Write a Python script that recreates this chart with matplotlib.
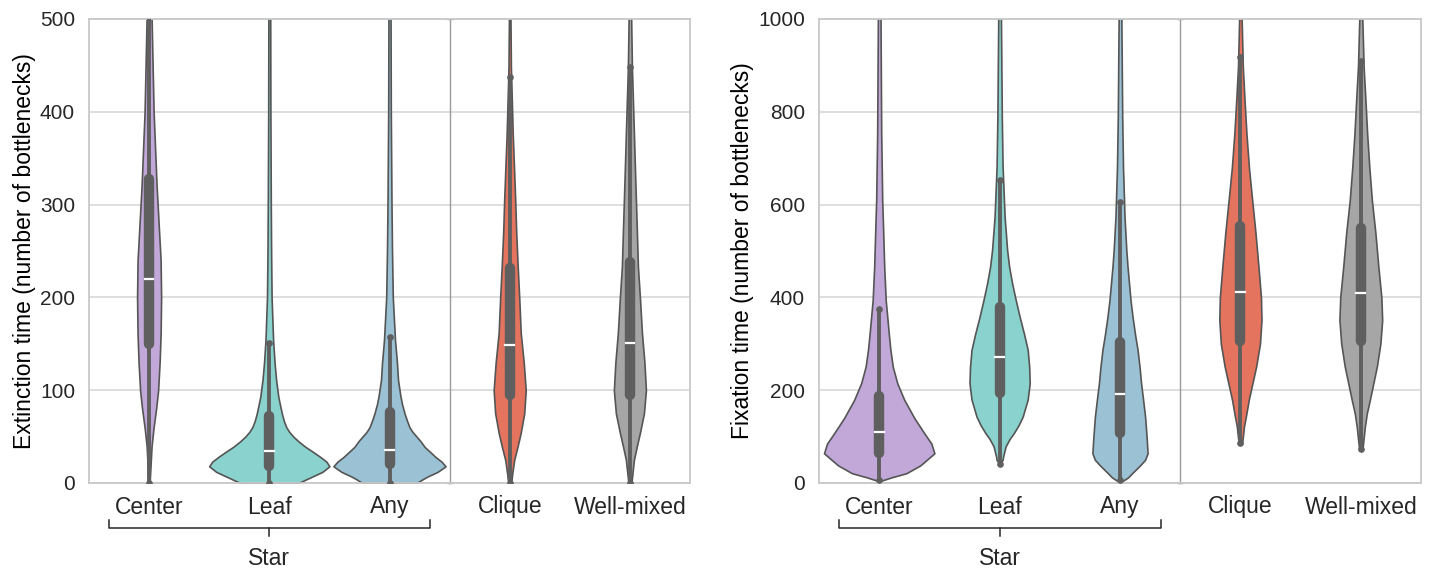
import numpy as np
import matplotlib.pyplot as plt
from matplotlib.transforms import blended_transform_factory

plt.rcParams['font.family'] = ['Liberation Sans', 'DejaVu Sans']
plt.rcParams['text.color'] = '#262626'

categories = ['Center', 'Leaf', 'Any', 'Clique', 'Well-mixed']
colors = ['#C1A8D9', '#8AD2CD', '#9AC2D4', '#E4745E', '#A6A6A6']

# --- extinction time (left): violin outlines, value -> half width ---
ext_center_y = [0, 10, 20, 40, 60, 80, 100, 130, 160, 200, 240, 280, 320, 360, 400, 450, 500, 520]
ext_center_w = [0.5, 1, 1.5, 2.5, 4.5, 7, 9, 10.5, 11.5, 12, 11.5, 9.5, 7.5, 6, 4.5, 3.5, 2.5, 2.3]
ext_leaf_y = [0, 4, 7, 12, 18, 23, 28, 34, 39, 45, 50, 55, 60, 67, 75, 85, 93, 111, 129, 154, 200, 250, 300, 400, 520]
ext_leaf_w = [29, 37, 43, 53, 60, 57, 51, 43, 36, 29, 24, 20, 17, 14.5, 12.5, 10.5, 9, 6.8, 5.3, 3.8, 2.3, 1.8, 1.5, 1.1, 0.9]
ext_any_y = [0, 4, 7, 12, 18, 23, 28, 34, 39, 45, 50, 55, 60, 67, 75, 85, 93, 111, 129, 154, 200, 250, 300, 400, 520]
ext_any_w = [27, 33, 38, 48, 56, 52, 46, 40, 35, 31, 27, 23, 20, 17.5, 15, 12.5, 11, 8.5, 7.5, 5.5, 3.3, 2.5, 2, 1.3, 1.0]
ext_clique_y = [0, 10, 25, 40, 54, 75, 100, 130, 162, 200, 233, 270, 305, 340, 377, 448, 520]
ext_clique_w = [1.5, 2.5, 4.5, 8, 11, 14.5, 16, 14, 11, 9.5, 8, 6.5, 5.5, 4.3, 3.0, 1.2, 0.6]
ext_mixed_y = [0, 10, 25, 40, 54, 75, 100, 130, 162, 200, 233, 270, 305, 340, 377, 448, 520]
ext_mixed_w = [1.5, 2.5, 4, 7, 10, 14, 16, 14.5, 12, 10, 8, 7, 6, 5, 4, 2.0, 1.0]

ext_q1 = [150, 18, 20, 95, 95]
ext_med = [220, 35, 36, 149, 151]
ext_q3 = [328, 72, 76, 232, 238]
ext_lo = [0, 0, 0, 0, 0]
ext_hi = [520, 151, 157, 438, 448]

# --- fixation time (right) ---
fix_center_y = [5, 12, 21, 38, 64, 85, 107, 140, 179, 215, 251, 290, 323, 394, 466, 540, 610, 754, 1040]
fix_center_w = [2, 12, 27, 41, 55, 52, 45, 35, 25, 18, 13.5, 11, 9.5, 6.5, 5, 4, 3.0, 2.0, 1.2]
fix_leaf_y = [45, 50, 57, 79, 95, 107, 125, 143, 180, 215, 250, 287, 320, 358, 395, 430, 466, 502, 574, 681, 789, 1040]
fix_leaf_w = [1.5, 3, 3.5, 6, 10, 14, 19, 23, 28, 30, 29.5, 28, 24.5, 20, 16, 12.5, 9.5, 7.5, 5, 3, 2.2, 1.2]
fix_any_y = [5, 12, 21, 38, 50, 64, 100, 143, 180, 215, 250, 287, 320, 358, 394, 430, 466, 502, 574, 681, 789, 1040]
fix_any_w = [3, 8, 12, 20, 25, 27.5, 26.5, 25, 23, 21, 19.5, 17.5, 15, 12.5, 10.5, 9, 7.5, 6.3, 4.5, 3, 2.2, 1.2]
fix_clique_y = [84, 100, 121, 150, 179, 215, 251, 300, 351, 400, 466, 540, 610, 680, 754, 830, 897, 1040]
fix_clique_w = [1.5, 2.5, 3.5, 6, 8.3, 12, 15.7, 19.5, 21, 20.5, 18, 15, 11.7, 8.5, 6, 4.0, 2.4, 0.8]
fix_mixed_y = [70, 90, 121, 150, 179, 215, 251, 300, 351, 400, 466, 540, 610, 680, 754, 830, 897, 1040]
fix_mixed_w = [1.5, 2.5, 4, 6, 9, 12.5, 16, 19.5, 21.3, 20.5, 17.5, 14.5, 11, 8.5, 6.3, 4.5, 2.8, 1.0]

fix_q1 = [64, 195, 108, 306, 306]
fix_med = [110, 271, 192, 411, 409]
fix_q3 = [188, 379, 303, 553, 549]
fix_lo = [7, 42, 7, 86, 73]
fix_hi = [376, 653, 606, 918, 910]

WIDTH_SCALE = 1 / 120.0   # violin half width -> category units
EDGE = '#555555'
BOX = '#5F5F5F'
FS = 16.5


def draw_panel(ax, profiles, q1, med, q3, lo, hi, ymax, ystep, ylabel):
    for i, (ys, ws) in enumerate(profiles):
        ys = np.array(ys, dtype=float)
        ws = np.array(ws, dtype=float) * WIDTH_SCALE
        ax.fill_betweenx(ys, i - ws, i + ws, facecolor=colors[i],
                         edgecolor=EDGE, lw=1.2, zorder=2)
        ax.plot([i, i], [lo[i], hi[i]], color=BOX, lw=2.8,
                solid_capstyle='round', zorder=3)
        ax.plot([i, i], [lo[i], hi[i]], 'o', color=BOX, ms=3.8, zorder=3)
        ax.plot([i, i], [q1[i], q3[i]], color=BOX, lw=7.5,
                solid_capstyle='round', zorder=3)
        ax.plot([i - 0.036, i + 0.036], [med[i], med[i]], color='white',
                lw=1.6, zorder=4)

    # separator between star and the other graphs
    ax.plot([2.5, 2.5], [0, ymax], color='#9A9A9A', lw=1.0, marker='_',
            ms=4, mew=1.0, zorder=1.5, clip_on=False)

    ax.set_xlim(-0.5, 4.5)
    ax.set_ylim(0, ymax)
    ax.set_yticks(np.arange(0, ymax + 1, ystep))
    ax.set_xticks(range(len(categories)))
    ax.set_xticklabels(categories, fontsize=FS)
    ax.tick_params(axis='y', labelsize=15, length=0, pad=10, colors='#262626')
    ax.tick_params(axis='x', length=0, pad=9, colors='#262626')
    ax.yaxis.grid(True, color='#D4D4D4', lw=1.1, zorder=0)
    ax.set_axisbelow(True)
    for s in ax.spines.values():
        s.set_color('#C8C8C8')
        s.set_linewidth(1.3)
    ax.set_ylabel(ylabel, fontsize=FS, labelpad=3)

    # brace under the star categories
    tr = blended_transform_factory(ax.transData, ax.transAxes)
    xl, xr, xm = -0.33, 2.34, 1.0
    yt, yb, ym = -0.080, -0.097, -0.114
    ax.plot([xl, xl, xr, xr], [yt, yb, yb, yt], color='#262626', lw=1.1,
            transform=tr, clip_on=False, solid_joinstyle='round')
    ax.plot([xm, xm], [yb, ym], color='#262626', lw=1.1,
            transform=tr, clip_on=False)
    ax.text(xm, -0.162, 'Star', transform=tr, ha='center', va='center',
            fontsize=FS)


fig = plt.figure(figsize=(14.32, 5.71), dpi=100)
ax1 = fig.add_axes([89 / 1432, 88 / 571, 601 / 1432, 464 / 571])
ax2 = fig.add_axes([819 / 1432, 88 / 571, 602 / 1432, 464 / 571])

draw_panel(ax1,
           [(ext_center_y, ext_center_w), (ext_leaf_y, ext_leaf_w),
            (ext_any_y, ext_any_w), (ext_clique_y, ext_clique_w),
            (ext_mixed_y, ext_mixed_w)],
           ext_q1, ext_med, ext_q3, ext_lo, ext_hi, 500, 100,
           'Extinction time (number of bottlenecks)')
draw_panel(ax2,
           [(fix_center_y, fix_center_w), (fix_leaf_y, fix_leaf_w),
            (fix_any_y, fix_any_w), (fix_clique_y, fix_clique_w),
            (fix_mixed_y, fix_mixed_w)],
           fix_q1, fix_med, fix_q3, fix_lo, fix_hi, 1000, 200,
           'Fixation time (number of bottlenecks)')

fig.savefig('out.png', dpi=100)
